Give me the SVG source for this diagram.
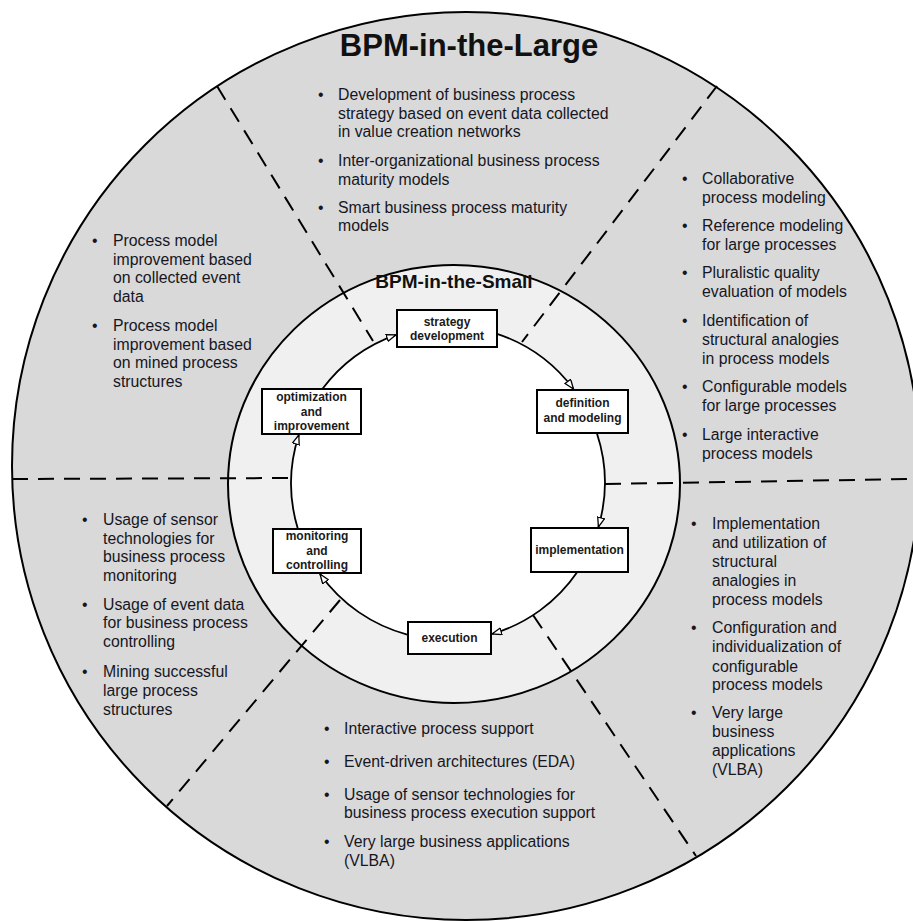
<svg xmlns="http://www.w3.org/2000/svg" width="913" height="921" viewBox="0 0 913 921">
<style>
  .lbl { font-family: "Liberation Sans", Arial, sans-serif; font-size: 15.8px; fill: #16161f; }
  .bul { font-family: "Liberation Sans", Arial, sans-serif; font-size: 15.8px; fill: #16161f; }
  .box { fill: #ffffff; stroke: #000000; stroke-width: 2; }
  .btxt { font-family: "Liberation Sans", Arial, sans-serif; font-size: 12px; font-weight: bold; fill: #1a1a1a; text-anchor: middle; }
  .dash { stroke: #000000; stroke-width: 2; stroke-dasharray: 16 10; fill: none; }
  .arc { fill: none; stroke: #000000; stroke-width: 1.8; marker-end: url(#open); }
  .title { font-family: "Liberation Sans", Arial, sans-serif; font-weight: bold; fill: #111111; text-anchor: middle; }
</style>
<defs>
  <marker id="open" markerUnits="userSpaceOnUse" markerWidth="12" markerHeight="10" refX="10" refY="4" orient="auto">
    <path d="M0.5,0.5 L10,4 L0.5,7.5 Z" fill="#ffffff" stroke="#000000" stroke-width="1.3"/>
  </marker>
</defs>
<rect width="913" height="921" fill="#ffffff"/>
<g id="large-circle">
  <circle cx="466" cy="466" r="454" fill="#d9d9d9" stroke="#000000" stroke-width="2"/>
</g>
<g id="small-ring">
  <ellipse cx="454" cy="484" rx="226" ry="219" fill="#f0f0f0" stroke="#000000" stroke-width="2"/>
  <circle cx="448" cy="483" r="157" fill="#ffffff" stroke="none"/>
</g>
<g id="dividers">
  <line class="dash" x1="217" y1="86" x2="373" y2="341"/>
  <line class="dash" x1="717" y1="86" x2="522" y2="342"/>
  <line class="dash" x1="12" y1="479" x2="291" y2="478"/>
  <line class="dash" x1="605" y1="484" x2="913" y2="479"/>
  <line class="dash" x1="340" y1="600" x2="167" y2="806"/>
  <line class="dash" x1="533" y1="615" x2="696" y2="856"/>
</g>
<g id="connectors">
  <path class="arc" d="M322.3,389 A157,157 0 0 1 396,334.8"/>
  <path class="arc" d="M497,333.8 A157,157 0 0 1 573.5,389"/>
  <path class="arc" d="M596.8,433 A157,157 0 0 1 598.4,527"/>
  <path class="arc" d="M577.3,572 A157,157 0 0 1 492,634"/>
  <path class="arc" d="M408,634.8 A157,157 0 0 1 320,574"/>
  <path class="arc" d="M297.9,529 A157,157 0 0 1 298.8,435"/>
</g>
<g id="title-large">
  <text class="title" x="469" y="56" font-size="31">BPM-in-the-Large</text>
</g>
<g id="title-small">
  <text class="title" x="454" y="288" font-size="19">BPM-in-the-Small</text>
</g>
<g id="node-strategy">
  <rect class="box" x="397" y="310" width="100" height="37"/>
  <text class="btxt" x="447" y="326">strategy</text>
  <text class="btxt" x="447" y="340">development</text>
</g>
<g id="node-definition">
  <rect class="box" x="537" y="390" width="91" height="43"/>
  <text class="btxt" x="582.5" y="407">definition</text>
  <text class="btxt" x="582.5" y="422">and modeling</text>
</g>
<g id="node-implementation">
  <rect class="box" x="531" y="528" width="97" height="44"/>
  <text class="btxt" x="579.5" y="554">implementation</text>
</g>
<g id="node-execution">
  <rect class="box" x="408" y="622" width="83" height="32"/>
  <text class="btxt" x="449.5" y="642">execution</text>
</g>
<g id="node-monitoring">
  <rect class="box" x="273" y="529" width="88" height="44"/>
  <text class="btxt" x="317" y="540">monitoring</text>
  <text class="btxt" x="317" y="555">and</text>
  <text class="btxt" x="317" y="569">controlling</text>
</g>
<g id="node-optimization">
  <rect class="box" x="262" y="389" width="99" height="45"/>
  <text class="btxt" x="311.5" y="401">optimization</text>
  <text class="btxt" x="311.5" y="416">and</text>
  <text class="btxt" x="311.5" y="430">improvement</text>
</g>
<g id="text-top">
  <text class="bul" x="318" y="99.5">•</text>
  <text class="lbl" x="338" y="99.5">Development of business process</text>
  <text class="lbl" x="338" y="118.5">strategy based on event data collected</text>
  <text class="lbl" x="338" y="137">in value creation networks</text>
  <text class="bul" x="318" y="165.5">•</text>
  <text class="lbl" x="338" y="165.5">Inter-organizational business process</text>
  <text class="lbl" x="338" y="184.5">maturity models</text>
  <text class="bul" x="318" y="212.5">•</text>
  <text class="lbl" x="338" y="212.5">Smart business process maturity</text>
  <text class="lbl" x="338" y="231">models</text>
</g>
<g id="text-upper-right">
  <text class="bul" x="682" y="184">•</text>
  <text class="lbl" x="702" y="184">Collaborative</text>
  <text class="lbl" x="702" y="203">process modeling</text>
  <text class="bul" x="682" y="231">•</text>
  <text class="lbl" x="702" y="231">Reference modeling</text>
  <text class="lbl" x="702" y="250">for large processes</text>
  <text class="bul" x="682" y="278">•</text>
  <text class="lbl" x="702" y="278">Pluralistic quality</text>
  <text class="lbl" x="702" y="297">evaluation of models</text>
  <text class="bul" x="682" y="326">•</text>
  <text class="lbl" x="702" y="326">Identification of</text>
  <text class="lbl" x="702" y="345">structural analogies</text>
  <text class="lbl" x="702" y="364">in process models</text>
  <text class="bul" x="682" y="392">•</text>
  <text class="lbl" x="702" y="392">Configurable models</text>
  <text class="lbl" x="702" y="411">for large processes</text>
  <text class="bul" x="682" y="440">•</text>
  <text class="lbl" x="702" y="440">Large interactive</text>
  <text class="lbl" x="702" y="459">process models</text>
</g>
<g id="text-upper-left">
  <text class="bul" x="92" y="245.5">•</text>
  <text class="lbl" x="113" y="245.5">Process model</text>
  <text class="lbl" x="113" y="264.5">improvement based</text>
  <text class="lbl" x="113" y="283">on collected event</text>
  <text class="lbl" x="113" y="302">data</text>
  <text class="bul" x="92" y="330.5">•</text>
  <text class="lbl" x="113" y="330.5">Process model</text>
  <text class="lbl" x="113" y="349.5">improvement based</text>
  <text class="lbl" x="113" y="368">on mined process</text>
  <text class="lbl" x="113" y="387">structures</text>
</g>
<g id="text-lower-left">
  <text class="bul" x="82" y="525">•</text>
  <text class="lbl" x="103" y="525">Usage of sensor</text>
  <text class="lbl" x="103" y="543.5">technologies for</text>
  <text class="lbl" x="103" y="562">business process</text>
  <text class="lbl" x="103" y="581">monitoring</text>
  <text class="bul" x="82" y="609.5">•</text>
  <text class="lbl" x="103" y="609.5">Usage of event data</text>
  <text class="lbl" x="103" y="628">for business process</text>
  <text class="lbl" x="103" y="647">controlling</text>
  <text class="bul" x="82" y="676.5">•</text>
  <text class="lbl" x="103" y="676.5">Mining successful</text>
  <text class="lbl" x="103" y="695.5">large process</text>
  <text class="lbl" x="103" y="714.5">structures</text>
</g>
<g id="text-lower-right">
  <text class="bul" x="691" y="529">•</text>
  <text class="lbl" x="712" y="529">Implementation</text>
  <text class="lbl" x="712" y="547.5">and utilization of</text>
  <text class="lbl" x="712" y="566.5">structural</text>
  <text class="lbl" x="712" y="585.5">analogies in</text>
  <text class="lbl" x="712" y="604.5">process models</text>
  <text class="bul" x="691" y="633">•</text>
  <text class="lbl" x="712" y="633">Configuration and</text>
  <text class="lbl" x="712" y="652">individualization of</text>
  <text class="lbl" x="712" y="671.5">configurable</text>
  <text class="lbl" x="712" y="690">process models</text>
  <text class="bul" x="691" y="718">•</text>
  <text class="lbl" x="712" y="718">Very large</text>
  <text class="lbl" x="712" y="736.5">business</text>
  <text class="lbl" x="712" y="755.5">applications</text>
  <text class="lbl" x="712" y="774.5">(VLBA)</text>
</g>
<g id="text-bottom">
  <text class="bul" x="324" y="734">•</text>
  <text class="lbl" x="344" y="734">Interactive process support</text>
  <text class="bul" x="324" y="767">•</text>
  <text class="lbl" x="344" y="767">Event-driven architectures (EDA)</text>
  <text class="bul" x="324" y="799.5">•</text>
  <text class="lbl" x="344" y="799.5">Usage of sensor technologies for</text>
  <text class="lbl" x="344" y="818">business process execution support</text>
  <text class="bul" x="324" y="847">•</text>
  <text class="lbl" x="344" y="847">Very large business applications</text>
  <text class="lbl" x="344" y="866">(VLBA)</text>
</g>
</svg>
